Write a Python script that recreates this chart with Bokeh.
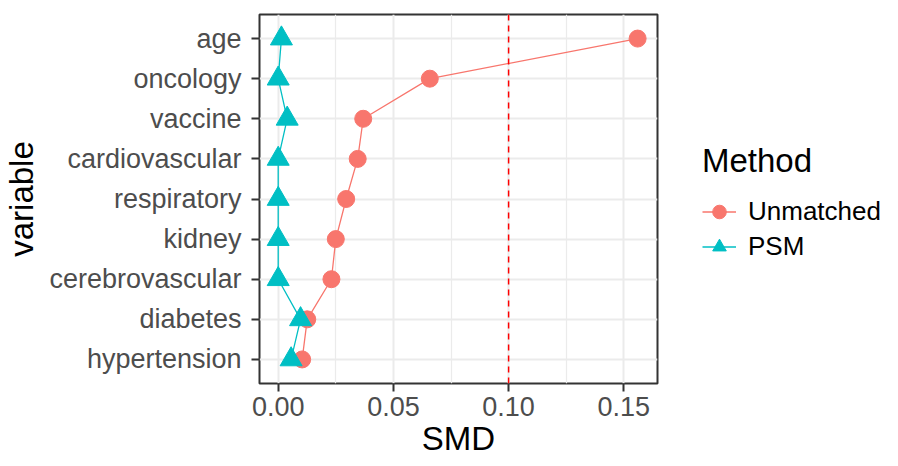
from bokeh.plotting import figure
from bokeh.models import (FactorRange, Range1d, FixedTicker, Span, Legend,
                          LegendItem, ColumnDataSource)
from bokeh.embed import file_html
from bokeh.resources import INLINE

# ---- data ----
variables = ["age", "oncology", "vaccine", "cardiovascular", "respiratory",
             "kidney", "cerebrovascular", "diabetes", "hypertension"]
smd_unmatched = [0.1560, 0.0658, 0.0369, 0.0345, 0.0295, 0.0250, 0.0231, 0.0126, 0.0104]
smd_psm = [0.0014, 0.0000, 0.0039, 0.0000, 0.0000, 0.0000, 0.0000, 0.0097, 0.0056]
methods = ["Unmatched", "PSM"]
method_colors = ["#F8766D", "#00BFC4"]
x_ticks = [0.0, 0.05, 0.10, 0.15]
x_tick_labels = ["0.00", "0.05", "0.10", "0.15"]
x_minor_ticks = [0.025, 0.075, 0.125]
threshold = 0.1
x_title = "SMD"
y_title = "variable"
legend_title = "Method"

FONT = "Liberation Sans"

p = figure(frame_width=398, frame_height=369, output_backend="svg",
           toolbar_location=None,
           x_range=Range1d(-0.00812, 0.16463),
           y_range=FactorRange(factors=variables[::-1], range_padding=0.1,
                               range_padding_units="absolute"),
           min_border_left=259, min_border_right=225,
           min_border_top=14, min_border_bottom=0)

p.background_fill_color = "white"
p.border_fill_color = "white"
p.outline_line_color = "#333333"
p.outline_line_width = 2

# grid
p.xaxis.ticker = FixedTicker(ticks=x_ticks, minor_ticks=x_minor_ticks)
p.xgrid.grid_line_color = "#EBEBEB"
p.xgrid.grid_line_width = 2
p.xgrid.minor_grid_line_color = "#EBEBEB"
p.xgrid.minor_grid_line_width = 1.2
p.ygrid.grid_line_color = "#EBEBEB"
p.ygrid.grid_line_width = 2

# axes
for ax in (p.xaxis[0], p.yaxis[0]):
    ax.axis_line_color = None
    ax.major_tick_line_color = "#333333"
    ax.major_tick_line_width = 2
    ax.major_tick_out = 8
    ax.major_tick_in = 0
    ax.minor_tick_line_color = None
    ax.major_label_text_font = FONT
    ax.major_label_text_font_size = "27px"
    ax.major_label_text_color = "#4D4D4D"
    ax.axis_label_text_font = FONT
    ax.axis_label_text_font_size = "33px"
    ax.axis_label_text_font_style = "normal"
    ax.axis_label_text_color = "black"
p.xaxis.major_label_standoff = 5
p.yaxis.major_label_standoff = 10
p.xaxis.axis_label = x_title
p.yaxis.axis_label = y_title
p.xaxis.axis_label_standoff = 1
p.yaxis.axis_label_standoff = 6
p.xaxis.major_label_overrides = dict(zip(x_ticks, x_tick_labels))

# threshold line
p.add_layout(Span(location=threshold, dimension="height", line_color="red",
                  line_dash="6 5", line_width=1.5))

# series
src_u = ColumnDataSource(dict(x=smd_unmatched, y=variables))
src_p = ColumnDataSource(dict(x=smd_psm, y=variables))
line_u = p.line("x", "y", source=src_u, line_color=method_colors[0], line_width=1.3)
line_p = p.line("x", "y", source=src_p, line_color=method_colors[1], line_width=1.3)
pts_u = p.scatter("x", "y", source=src_u, marker="circle", size=17,
                  fill_color=method_colors[0], line_color=method_colors[0])
pts_p = p.scatter("x", "y", source=src_p, marker="triangle", size=22,
                  fill_color=method_colors[1], line_color=method_colors[1])

legend = Legend(items=[LegendItem(label=methods[0], renderers=[line_u, pts_u]),
                       LegendItem(label=methods[1], renderers=[line_p, pts_p])],
                location=(45, 119),
                title=legend_title, title_text_font=FONT, title_text_font_size="33px",
                title_text_color="black", title_text_font_style="normal",
                title_standoff=14,
                label_text_font=FONT, label_text_font_size="26px",
                label_text_color="black",
                glyph_width=34, glyph_height=35, label_height=31,
                label_standoff=12, spacing=0, padding=0, margin=0,
                border_line_color=None, background_fill_alpha=0)
p.add_layout(legend, "right")

open("out.html", "w").write(file_html(p, INLINE))
